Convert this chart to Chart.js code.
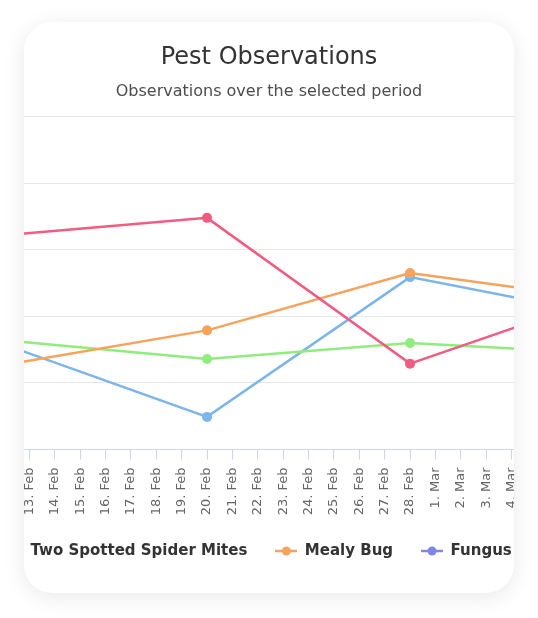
<!DOCTYPE html>
<html>
<head>
<meta charset="utf-8">
<script src="https://cdn.jsdelivr.net/npm/chart.js@4.4.1/dist/chart.umd.min.js"></script>
<style>
  html, body { margin: 0; padding: 0; background: #ffffff; }
  body { width: 538px; height: 618px; position: relative; overflow: hidden; }
  .card {
    position: absolute; left: 24px; top: 22px; width: 490px; height: 571px;
    background: #ffffff; border-radius: 28px; overflow: hidden;
    box-shadow: 0 4px 22px rgba(0, 0, 0, 0.09);
  }
  .chart-box { position: absolute; left: -81px; top: 0; width: 652px; height: 571px; }
</style>
</head>
<body>
<div class="card">
  <div class="chart-box"><canvas id="pestChart"></canvas></div>
</div>
<script>
// x axis day labels (index = position on the axis)
var dateLabels = [
  "10. Feb", "11. Feb", "12. Feb", "13. Feb", "14. Feb", "15. Feb", "16. Feb",
  "17. Feb", "18. Feb", "19. Feb", "20. Feb", "21. Feb", "22. Feb", "23. Feb",
  "24. Feb", "25. Feb", "26. Feb", "27. Feb", "28. Feb", "1. Mar", "2. Mar",
  "3. Mar", "4. Mar", "5. Mar", "6. Mar", "7. Mar", "8. Mar", "9. Mar"
];
// observation dates
var pointDates = ["12. Feb", "20. Feb", "28. Feb", "7. Mar"];

// series values, one per observation date
var blueSeries = [15.8, 4.9, 25.9, 20.7];
var spiderMites = [16.4, 13.6, 16.0, 14.6];
var mealyBug = [12.7, 17.9, 26.5, 22.9];
var fungus = [];
var redSeries = [32.2, 34.8, 12.9, 22.1];

function toPoints(values) {
  return values.map(function (v, i) {
    return { x: dateLabels.indexOf(pointDates[i]), y: v };
  });
}

// line + dot symbol for the legend
function legendSymbol(color) {
  var c = document.createElement("canvas");
  c.width = 22;
  c.height = 12;
  var g = c.getContext("2d");
  g.strokeStyle = color;
  g.lineWidth = 2.5;
  g.beginPath();
  g.moveTo(0, 6);
  g.lineTo(22, 6);
  g.stroke();
  g.fillStyle = color;
  g.beginPath();
  g.arc(11, 6, 4.5, 0, Math.PI * 2);
  g.fill();
  return c;
}

function lineSet(label, values, color, order) {
  return {
    label: label,
    data: toPoints(values),
    borderColor: color,
    backgroundColor: color,
    pointBackgroundColor: color,
    pointBorderWidth: 0,
    pointRadius: 5,
    borderWidth: 2.5,
    tension: 0,
    order: order
  };
}

document.addEventListener("DOMContentLoaded", function () {
  Chart.defaults.font.family = "'DejaVu Sans', sans-serif";
  var ctx = document.getElementById("pestChart").getContext("2d");
  new Chart(ctx, {
    type: "line",
    data: {
      datasets: [
        lineSet("", blueSeries, "#7cb5ec", 4),
        lineSet("Two Spotted Spider Mites", spiderMites, "#90ed7d", 3),
        lineSet("Mealy Bug", mealyBug, "#f7a35c", 2),
        lineSet("Fungus", fungus, "#8085e9", 1),
        lineSet("", redSeries, "#f15c80", 0)
      ]
    },
    options: {
      responsive: true,
      maintainAspectRatio: false,
      animation: false,
      layout: { padding: { left: 30, right: 30, top: 0, bottom: 24.5 } },
      scales: {
        x: {
          type: "linear",
          min: 0.777,
          max: 24.107,
          afterFit: function (scale) { scale.height = 66; },
          ticks: {
            stepSize: 1,
            includeBounds: false,
            autoSkip: false,
            minRotation: 90,
            maxRotation: 90,
            padding: 8,
            color: "#666666",
            font: { size: 13 },
            callback: function (value) {
              return dateLabels[value] || "";
            }
          },
          grid: { drawOnChartArea: false, drawTicks: true, tickLength: 10, color: "#ccd6eb" },
          border: { color: "#ccd6eb", width: 1 }
        },
        y: {
          min: 0,
          max: 50,
          afterFit: function (scale) { scale.width = 0; },
          ticks: { display: false, stepSize: 10 },
          grid: {
            drawTicks: false,
            color: function (c) { return c.tick.value === 0 ? "rgba(0,0,0,0)" : "#e6e6e6"; }
          },
          border: { display: false }
        }
      },
      plugins: {
        title: {
          display: true,
          text: "Pest Observations",
          color: "#333333",
          font: { size: 24, weight: "normal" },
          padding: { top: 21, bottom: 10 }
        },
        subtitle: {
          display: true,
          text: "Observations over the selected period",
          color: "#4d4d4d",
          font: { size: 16 },
          padding: { top: 0, bottom: 15.7 }
        },
        legend: {
          position: "bottom",
          align: "start",
          labels: {
            usePointStyle: true,
            pointStyleWidth: 22,
            padding: 28,
            color: "#333333",
            font: { size: 15, weight: "bold" },
            filter: function (item) { return item.text !== ""; },
            sort: function (a, b) { return a.datasetIndex - b.datasetIndex; },
            generateLabels: function (chart) {
              var items = Chart.defaults.plugins.legend.labels.generateLabels(chart);
              items.forEach(function (item) {
                item.pointStyle = legendSymbol(chart.data.datasets[item.datasetIndex].borderColor);
              });
              return items;
            }
          }
        },
        tooltip: { enabled: true }
      }
    }
  });
});
</script>
</body>
</html>
